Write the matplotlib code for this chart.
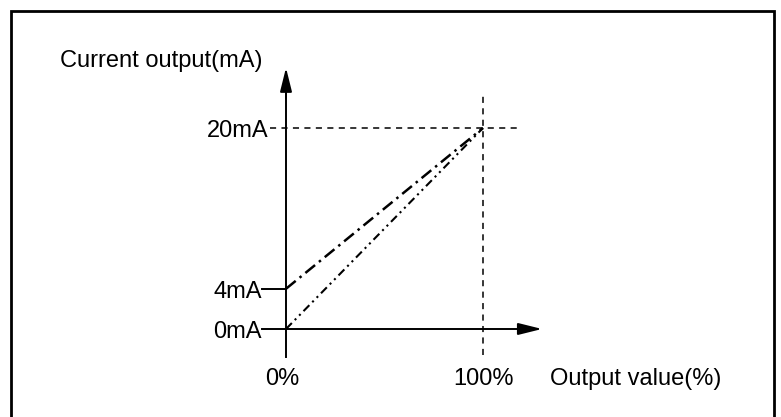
import matplotlib
matplotlib.use('Agg')
import matplotlib.pyplot as plt
from matplotlib.patches import Rectangle

# Data
pct = [0, 100]
line_4_20 = [4, 20]
line_0_20 = [0, 20]
tick_vals = [0, 4, 20]
tick_labels = ['0mA', '4mA', '20mA']
x_labels = ['0%', '100%']

plt.rcParams['font.family'] = ['Liberation Sans', 'DejaVu Sans']

fig = plt.figure(figsize=[7.81, 4.17], dpi=100)
ax = fig.add_axes([0, 0, 1, 1])
ax.set_xlim(-145.2, 251.3)
ax.set_ylim(-8.76, 32.74)
ax.axis('off')

# outer frame
fig.add_artist(Rectangle((11/781, -0.1), (774-11)/781, 1.1 - 11/417,
                         transform=fig.transFigure, fill=False, lw=2, ec='black'))

# axes with arrows
ax.plot([0, 0], [-2.8, 24], color='black', lw=1.4)
ax.annotate('', xy=(0, 26.0), xytext=(0, 23),
            arrowprops=dict(arrowstyle='-|>,head_length=1.45,head_width=0.36',
                            lw=1.4, color='black', shrinkA=0, shrinkB=0))
ax.plot([0, 120], [0, 0], color='black', lw=1.4)
ax.annotate('', xy=(130, 0), xytext=(118, 0),
            arrowprops=dict(arrowstyle='-|>,head_length=1.45,head_width=0.36',
                            lw=1.4, color='black', shrinkA=0, shrinkB=0))

# guide lines at 100% / 20mA
ax.plot([100, 100], [-2.6, 23.6], color='black', lw=1.1, ls=(0, (4, 3.5)))
ax.plot([-8, 119], [20, 20], color='black', lw=1.1, ls=(0, (4, 3.5)))

# tick marks
for v in tick_vals[:2]:
    ax.plot([-12.2, 0], [v, v], color='black', lw=1.4)

# output lines
ax.plot(pct, line_4_20, color='black', lw=1.8, ls=(0, (5, 2, 1, 2)))
ax.plot(pct, line_0_20, color='black', lw=1.5, ls=(0, (4, 2, 1, 2, 1, 2)))

# labels
fs = 17
for v, lab, dx in zip(tick_vals, tick_labels, [-12.2, -12.2, -9.1]):
    ax.text(dx, v - 0.9, lab, ha='right', va='baseline', fontsize=fs)
ax.text(-2, -5.57, x_labels[0], ha='center', va='baseline', fontsize=fs)
ax.text(100.5, -5.57, x_labels[1], ha='center', va='baseline', fontsize=fs)
ax.text(134, -5.57, 'Output value(%)', ha='left', va='baseline', fontsize=fs)
ax.text(-114.7, 26.07, 'Current output(mA)', ha='left', va='baseline', fontsize=fs)

fig.savefig('out.png', dpi=100)
